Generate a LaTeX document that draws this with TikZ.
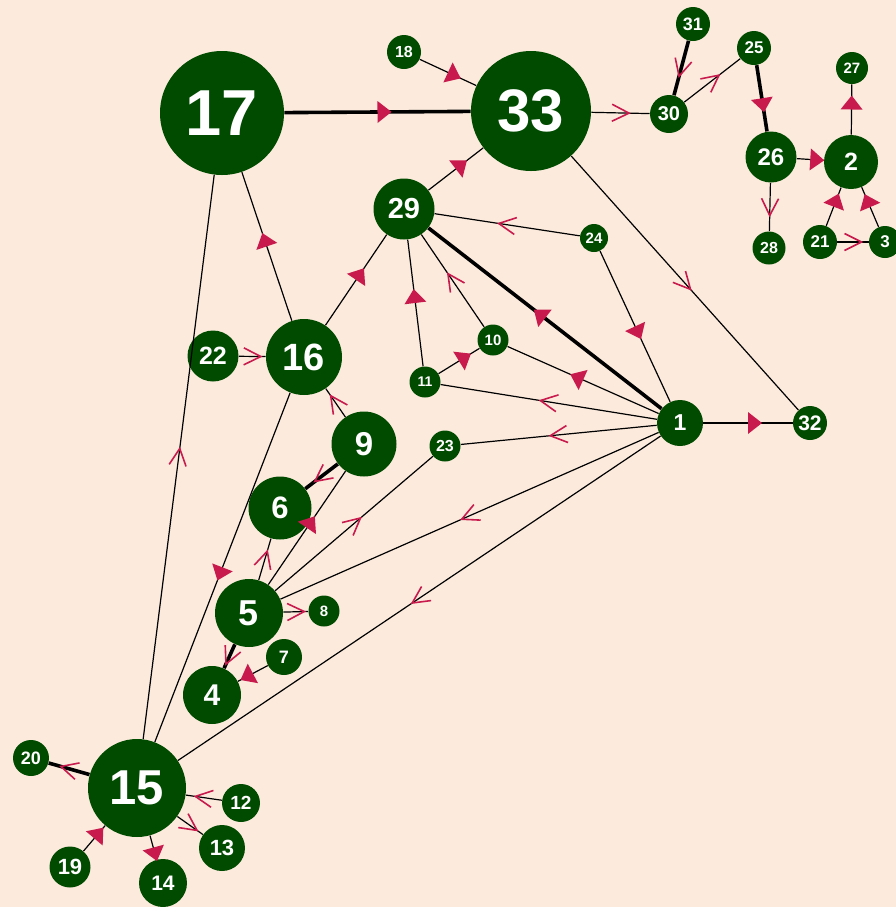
\documentclass[tikz,border=0pt]{standalone}
\usepackage{fontspec}
\setmainfont{Liberation Sans}
\definecolor{bgc}{RGB}{252,235,221}
\definecolor{ngreen}{RGB}{0,75,0}
\definecolor{mkred}{RGB}{200,26,76}
\tikzset{
  nd/.style={circle, fill=ngreen, text=white, inner sep=0pt},
  ln/.style={draw=black, line width=0.6pt},
  thk/.style={line width=1.8pt},
  tri/.pic={\fill[mkred] (0,-11) -- (14,0) -- (0,11) -- cycle;},
  chev/.pic={\draw[mkred, line width=0.8pt, line join=miter] (-8.5,-8.5) -- (8.5,0) -- (-8.5,8.5);},
}
\newcommand\mknode[5]{\node[nd, minimum size=#4pt, font=\bfseries\fontsize{#5}{#5}\selectfont] (n#1) at (#2,#3) {#1};}
\newcommand\etri[3][]{\draw[ln,#1] (n#2) -- (n#3); \path (n#2) -- pic[pos=0.5,sloped,allow upside down]{tri} (n#3);}
\newcommand\echev[3][]{\draw[ln,#1] (n#2) -- (n#3); \path (n#2) -- pic[pos=0.5,sloped,allow upside down]{chev} (n#3);}
\begin{document}
\begin{tikzpicture}[x=0.5pt,y=-0.5pt]
\fill[bgc] (0,0) rectangle (896,907);
\useasboundingbox (0,0) rectangle (896,907);
% nodes
\mknode{17}{222}{113}{62}{32.5}
\mknode{33}{531}{111}{60}{30}
\mknode{18}{404}{52}{17}{8}
\mknode{31}{693}{24}{17}{9}
\mknode{25}{754}{48}{17}{8.5}
\mknode{30}{669}{114}{19}{10}
\mknode{27}{852}{68}{16}{7.5}
\mknode{26}{771}{157}{25.5}{12}
\mknode{2}{851}{162}{27}{12.5}
\mknode{28}{769}{248}{16.5}{8}
\mknode{21}{820}{242}{17}{8.5}
\mknode{3}{885}{242}{16}{8.5}
\mknode{29}{404}{209}{30.5}{14.5}
\mknode{24}{594}{238}{14}{7.5}
\mknode{10}{493}{340}{15.5}{7.5}
\mknode{11}{425}{382}{15.5}{7}
\mknode{1}{680}{423}{23}{11.5}
\mknode{32}{810}{423}{17}{10.5}
\mknode{23}{445}{446}{15.5}{8}
\mknode{22}{213}{356}{25.5}{12.5}
\mknode{16}{304}{357}{38}{19}
\mknode{9}{364}{444}{32.5}{16.5}
\mknode{6}{280}{508}{31.5}{15.5}
\mknode{5}{249}{613}{34}{18}
\mknode{8}{324}{611}{15.5}{7.5}
\mknode{7}{284}{657}{18}{9}
\mknode{4}{212}{695}{29}{15}
\mknode{20}{31}{758}{18}{9}
\mknode{15}{137}{788}{49}{24.5}
\mknode{12}{241}{803}{19}{9.5}
\mknode{13}{222}{848}{23}{11}
\mknode{19}{70}{867}{20.5}{11}
\mknode{14}{163}{883}{24}{10.5}
% edges with filled markers
\etri[thk]{17}{33}
\etri{18}{33}
\etri{29}{33}
\etri{16}{17}
\etri{16}{29}
\etri{11}{29}
\etri[thk]{1}{29}
\etri{24}{1}
\etri{11}{10}
\etri{1}{10}
\etri[thk]{25}{26}
\etri{26}{2}
\etri{2}{27}
\etri{21}{2}
\etri{3}{2}
\etri{19}{15}
\etri{15}{14}
\etri{5}{9}
\etri{16}{15}
\etri{7}{4}
\etri{1}{32}
% edges with open markers
\echev{33}{30}
\echev[thk]{31}{30}
\echev{30}{25}
\echev{26}{28}
\echev{21}{3}
\echev{33}{32}
\echev{24}{29}
\echev{10}{29}
\echev{1}{11}
\echev{1}{23}
\echev{1}{5}
\echev{1}{15}
\echev[thk]{15}{20}
\echev{12}{15}
\echev{15}{13}
\echev[thk]{9}{6}
\echev{5}{6}
\echev{5}{23}
\echev{5}{8}
\echev[thk]{5}{4}
\echev{9}{16}
\echev{22}{16}
\echev{15}{17}
\end{tikzpicture}
\end{document}
